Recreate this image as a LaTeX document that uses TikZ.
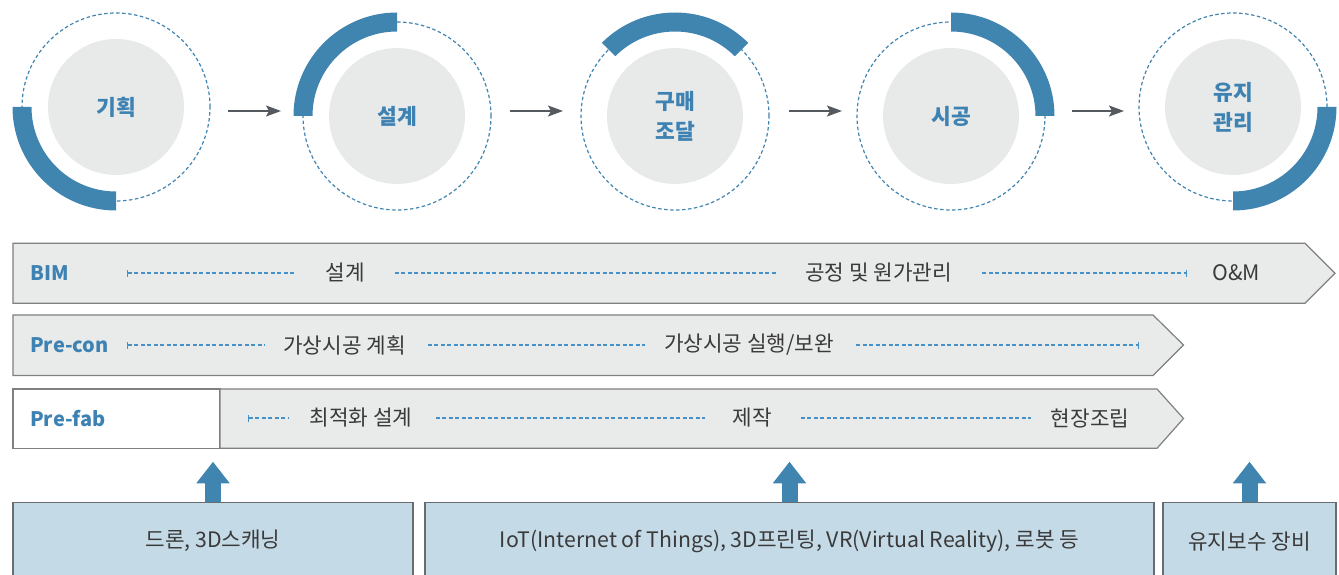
\documentclass[tikz,border=0pt]{standalone}
\usepackage{fontspec}
\setmainfont{Noto Sans CJK KR}
\usetikzlibrary{arrows.meta,calc}
\definecolor{bl}{RGB}{64,132,176}
\definecolor{bltxt}{RGB}{61,130,178}
\definecolor{dsh}{RGB}{70,145,200}
\definecolor{discc}{RGB}{232,233,233}
\definecolor{bandc}{RGB}{233,234,234}
\definecolor{bord}{RGB}{128,128,128}
\definecolor{boxf}{RGB}{197,218,231}
\definecolor{boxb}{RGB}{105,108,112}
\definecolor{txt}{RGB}{58,58,58}
\definecolor{arr}{RGB}{85,90,96}
\begin{document}
\begin{tikzpicture}[x=1pt,y=1pt,
 disc/.style={circle, fill=discc, minimum size=136pt, inner sep=0pt, text=bltxt, font=\bfseries\fontsize{21.5}{30}\selectfont, align=center},
 ring/.style={draw=bl, line width=1.2pt, dash pattern=on 3.5pt off 2.5pt},
 flow/.style={draw=arr, line width=1.5pt, -{Stealth[length=15pt,width=11pt,inset=3pt]}},
 bandshape/.style={fill=bandc, draw=bord, line width=1.2pt},
 lab/.style={anchor=west, text=bltxt, font=\bfseries\fontsize{20}{24}\selectfont, inner sep=0pt},
 ph/.style={text=txt, font=\fontsize{21.3}{25}\selectfont, inner sep=0pt},
 dl/.style={draw=dsh, line width=1.3pt, dash pattern=on 4pt off 2.5pt},
 tk/.style={{Bar[width=7pt,line width=1.2pt]}-},
 tkend/.style={-{Bar[width=7pt,line width=1.2pt]}},
 bx/.style={draw=boxb, fill=boxf, line width=1.2pt, text=txt, font=\fontsize{21.3}{25}\selectfont, minimum height=77pt, inner sep=0pt},
 up/.style={draw=bl, line width=16pt, -{Triangle[length=21.6pt,width=32pt]}}
]
\clip (0,0) rectangle (1339,-575);
\useasboundingbox (0,0) rectangle (1339,-575);

% stage circles
\foreach \n/\cx/\cy/\a/\b/\t in {c1/116/107/180/270/{기획}, c2/397/116/90/180/{설계}, c3/675/116/45/135/{구매\\조달}, c4/951/116/0/90/{시공}, c5/1233/107/-90/0/{유지\\관리}} {
  \node[disc] (\n) at (\cx,-\cy) {\t};
  \draw[ring] (\n.center) circle[radius=94];
  \fill[bl] ($(\n.center)+(\a:103.5)$) arc[start angle=\a,end angle=\b,radius=103.5]
     -- ($(\n.center)+(\b:84.5)$) arc[start angle=\b,end angle=\a,radius=84.5] -- cycle;
}

% arrows between stages
\coordinate (a1s) at (228,-111); \coordinate (a1e) at (281,-111);
\coordinate (a2s) at (510,-111); \coordinate (a2e) at (563,-111);
\coordinate (a3s) at (789,-111); \coordinate (a3e) at (842,-111);
\coordinate (a4s) at (1072,-111); \coordinate (a4e) at (1124,-111);
\draw[flow] (a1s) -- (a1e);
\draw[flow] (a2s) -- (a2e);
\draw[flow] (a3s) -- (a3e);
\draw[flow] (a4s) -- (a4e);

% bands
\path[bandshape] (13,-243.3) -- (1305,-243.3) -- (1335,-273.3) -- (1305,-303.3) -- (13,-303.3) -- cycle;
\path[bandshape] (13,-315) -- (1153,-315) -- (1183.5,-345) -- (1153,-375.5) -- (13,-375.5) -- cycle;
\path[draw=bord, fill=white, line width=1.2pt] (13,-389) rectangle (220,-448.3);
\path[bandshape] (220,-389) -- (1157,-389) -- (1183.5,-418.5) -- (1157,-448.3) -- (220,-448.3) -- cycle;

% row labels
\node[lab] (bim) at (30,-273.3) {BIM};
\node[lab] (pcon) at (30,-345) {Pre-con};
\node[lab] (pfab) at (30,-418.3) {Pre-fab};

% row 1
\node[ph] (b1) at (345,-273) {설계};
\node[ph] (b2) at (878.5,-273) {공정 및 원가관리};
\node[ph] (b3) at (1236,-273) {O\&M};
\coordinate (r1s) at (127,-273);
\draw[dl,tk,shorten >=29pt] (r1s) -- (b1.west);
\draw[dl,shorten <=30pt,shorten >=28pt] (b1.east) -- (b2.west);
\draw[dl,tkend,shorten <=30pt,shorten >=25pt] (b2.east) -- (b3.west);

% row 2
\node[ph] (p1) at (344.5,-345) {가상시공 계획};
\node[ph] (p2) at (749,-345) {가상시공 실행/보완};
\coordinate (r2s) at (127,-345);
\coordinate (r2e) at (1139,-345);
\draw[dl,tk,shorten >=18pt] (r2s) -- (p1.west);
\draw[dl,shorten <=22pt,shorten >=19pt] (p1.east) -- (p2.west);
\draw[dl,tkend,shorten <=22pt] (p2.east) -- (r2e);

% row 3
\node[ph] (f1) at (361,-418) {최적화 설계};
\node[ph] (f2) at (752,-418) {제작};
\node[ph] (f3) at (1090,-418) {현장조립};
\coordinate (r3s) at (248,-418);
\draw[dl,tk,shorten >=21pt] (r3s) -- (f1.west);
\draw[dl,shorten <=23pt,shorten >=27pt] (f1.east) -- (f2.west);
\draw[dl,shorten <=29pt,shorten >=20pt] (f2.east) -- (f3.west);

% bottom boxes
\node[bx, minimum width=400pt] (k1) at (213,-541.2) {드론, 3D스캐닝};
\node[bx, minimum width=729pt] (k2) at (789.5,-541.2) {IoT(Internet of Things), 3D프린팅, VR(Virtual Reality), 로봇 등};
\node[bx, minimum width=173pt] (k3) at (1249.5,-541.2) {유지보수 장비};

% up arrows
\coordinate (tip) at (0,-461.7);
\draw[up] (k1.north) -- (k1.north |- tip);
\draw[up] (k2.north) -- (k2.north |- tip);
\draw[up] (k3.north) -- (k3.north |- tip);
\end{tikzpicture}
\end{document}
